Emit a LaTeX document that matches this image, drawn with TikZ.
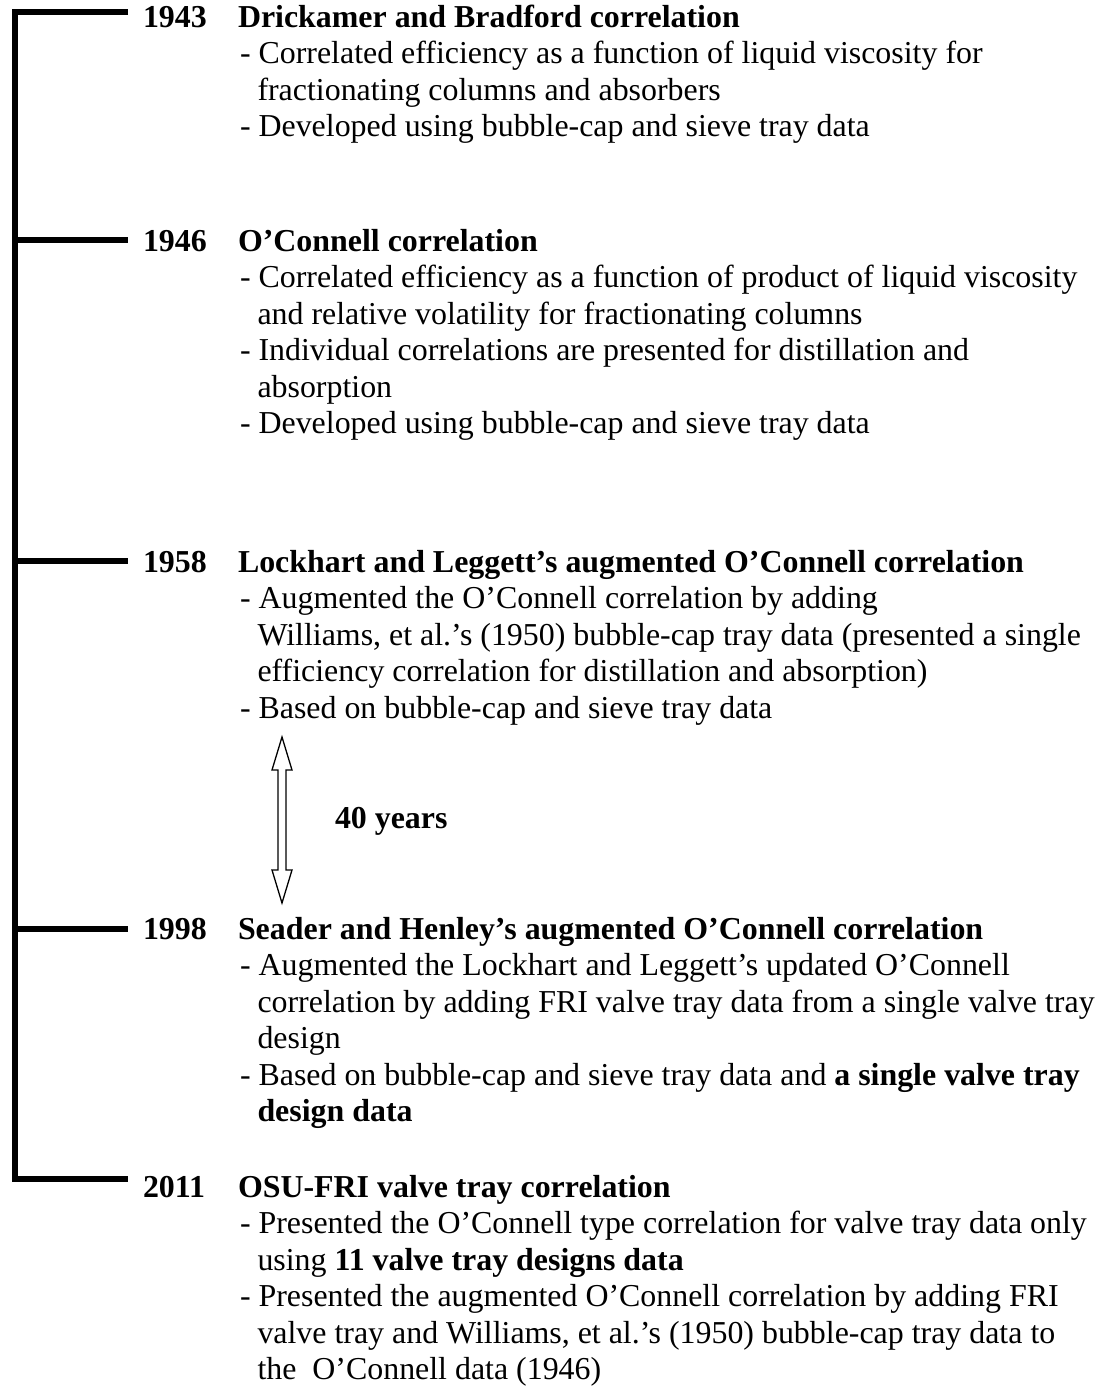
\documentclass[tikz,border=0pt]{standalone}
\usepackage{fontspec}
\setmainfont{Liberation Serif}
\begin{document}
\begin{tikzpicture}[x=1pt,y=-1pt,
  txt/.style={anchor=base west, inner sep=0pt, outer sep=0pt, font=\fontsize{31.9}{36}\selectfont},
  yr/.style={anchor=base west, inner sep=0pt, outer sep=0pt, font=\fontsize{31.9}{36}\selectfont\bfseries},
  bar/.style={line width=6pt, line join=miter},
  hollow/.style={draw=black, line width=1.3pt, fill=white, line join=miter}]
\useasboundingbox (0,0) rectangle (1103,1387);

% timeline bracket
\coordinate (t1) at (14.5,12);
\coordinate (t1e) at (128,12);
\coordinate (t5) at (14.5,1179);
\coordinate (t5e) at (128,1179);
\coordinate (t2) at (14.5,240);
\coordinate (t2e) at (128,240);
\coordinate (t3) at (14.5,561);
\coordinate (t3e) at (128,561);
\coordinate (t4) at (14.5,929);
\coordinate (t4e) at (128,929);
\draw[bar] (t1e) -- (t1) -- (t5) -- (t5e);
\draw[bar] (t2) -- (t2e);
\draw[bar] (t3) -- (t3e);
\draw[bar] (t4) -- (t4e);

% 1943
\node[yr] (y1) at (143,27) {1943};
\node[yr] (h1) at (238,27) {Drickamer and Bradford correlation};
\node[txt] (a1) at (240,63.5) {- Correlated efficiency as a function of liquid viscosity for};
\node[txt] (a2) at (257.5,100) {fractionating columns and absorbers};
\node[txt] (a3) at (240,136.5) {- Developed using bubble-cap and sieve tray data};

% 1946
\node[yr] (y2) at (143,251) {1946};
\node[yr] (h2) at (238,251) {O’Connell correlation};
\node[txt] (b1) at (240,287.5) {- Correlated efficiency as a function of product of liquid viscosity};
\node[txt] (b2) at (257.5,324) {and relative volatility for fractionating columns};
\node[txt] (b3) at (240,360.5) {- Individual correlations are presented for distillation and};
\node[txt] (b4) at (257.5,397) {absorption};
\node[txt] (b5) at (240,433.5) {- Developed using bubble-cap and sieve tray data};

% 1958
\node[yr] (y3) at (143,572) {1958};
\node[yr] (h3) at (238,572) {Lockhart and Leggett’s augmented O’Connell correlation};
\node[txt] (c1) at (240,608.5) {- Augmented the O’Connell correlation by adding};
\node[txt] (c2) at (257.5,645) {Williams, et al.’s (1950) bubble-cap tray data (presented a single};
\node[txt] (c3) at (257.5,681.5) {efficiency correlation for distillation and absorption)};
\node[txt] (c4) at (240,718) {- Based on bubble-cap and sieve tray data};

% 40 years arrow
\draw[hollow] (282,737) -- (292,770) -- (286,770) -- (286,870) -- (292,870) -- (282,903)
  -- (272,870) -- (278,870) -- (278,770) -- (272,770) -- cycle;
\node[yr] (gap) at (335,828) {40 years};

% 1998
\node[yr] (y4) at (143,939) {1998};
\node[yr] (h4) at (238,939) {Seader and Henley’s augmented O’Connell correlation};
\node[txt] (d1) at (240,975.5) {- Augmented the Lockhart and Leggett’s updated O’Connell};
\node[txt] (d2) at (257.5,1012) {correlation by adding FRI valve tray data from a single valve tray};
\node[txt] (d3) at (257.5,1048.5) {design};
\node[txt] (d4) at (240,1085) {- Based on bubble-cap and sieve tray data and \textbf{a single valve tray}};
\node[txt] (d5) at (257.5,1121.5) {\textbf{design data}};

% 2011
\node[yr] (y5) at (143,1197) {2011};
\node[yr] (h5) at (238,1197) {OSU-FRI valve tray correlation};
\node[txt] (e1) at (240,1233.5) {- Presented the O’Connell type correlation for valve tray data only};
\node[txt] (e2) at (257.5,1270) {using \textbf{11 valve tray designs data}};
\node[txt] (e3) at (240,1306.5) {- Presented the augmented O’Connell correlation by adding FRI};
\node[txt] (e4) at (257.5,1343) {valve tray and Williams, et al.’s (1950) bubble-cap tray data to};
\node[txt] (e5) at (257.5,1379.5) {the\ \ O’Connell data (1946)};
\end{tikzpicture}
\end{document}
